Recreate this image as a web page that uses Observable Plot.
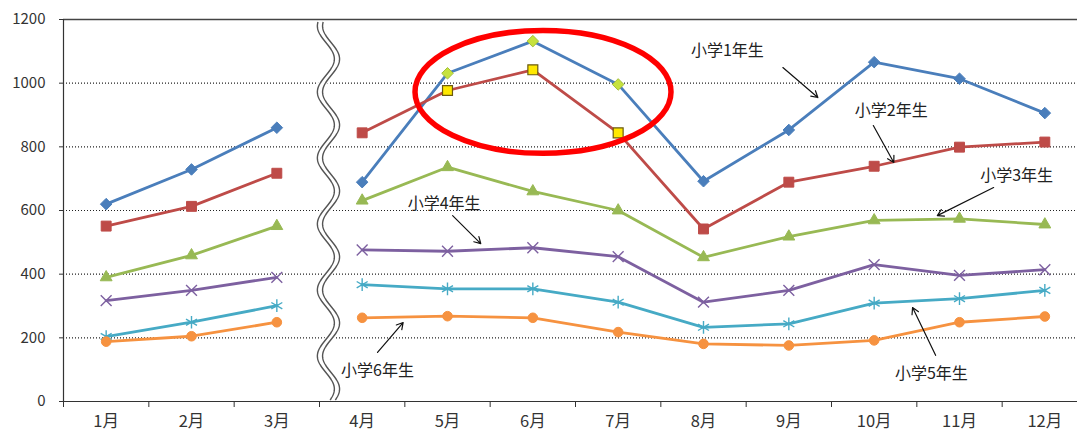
<!DOCTYPE html>
<html><head><meta charset="utf-8">
<script src="https://cdn.jsdelivr.net/npm/d3@7"></script>
<script src="https://cdn.jsdelivr.net/npm/@observablehq/plot@0.6"></script>
<style>
body{margin:0;background:#fff;}
#chart svg{display:block;}
</style>
</head><body><div id="chart"></div>
<script>
// ---- data ----
const months = ["1月","2月","3月","4月","5月","6月","7月","8月","9月","10月","11月","12月"];
const seriesNames = ["小学1年生","小学2年生","小学3年生","小学4年生","小学5年生","小学6年生"];
const grade1 = [620, 729, 860, 689, 1031, 1132, 996, 692, 853, 1066, 1014, 906];
const grade2 = [551, 613, 717, 844, 977, 1042, 844, 542, 689, 739, 799, 815];
const grade3 = [390, 459, 551, 631, 736, 660, 600, 453, 518, 569, 574, 556];
const grade4 = [317, 349, 390, 476, 472, 483, 455, 312, 349, 430, 396, 414];
const grade5 = [204, 249, 301, 367, 354, 354, 312, 233, 244, 309, 323, 349];
const grade6 = [188, 205, 249, 263, 268, 263, 218, 181, 176, 192, 249, 267];
const yTicks = [0, 200, 400, 600, 800, 1000, 1200];
const gridValues = [200, 400, 600, 800, 1000];
const highlightMonths = [5, 6, 7];           // 強調された月
const breakAfterMonth = 3;                     // 3月と4月の間で軸を省略

const colors = ["#4A7EBB", "#BE4B48", "#98B954", "#7D60A0", "#46AAC5", "#F69240"];
const symbols = ["diamond2", "square", "triangle", "times", "asterisk", "circle"];
const dotR = [5.2, 5.6, 4.4, 5.0, 6.0, 4.8];

// label annotations (data coordinates)
const labelX = [8.28, 10.20, 11.67, 4.96, 10.67, 4.18];
const labelY = [1103, 914, 710, 622, 88, 97];
const arrowX1 = [8.93, 9.99, 11.40, 5.06, 10.72, 4.18];
const arrowY1 = [1049, 867, 672, 584, 145, 154];
const arrowX2 = [9.34, 10.23, 10.74, 5.39, 10.45, 4.48];
const arrowY2 = [955, 751, 584, 496, 295, 248];

// red ellipse highlighting May–Jul
const ellipseCx = 6.125, ellipseCy = 971, ellipseRx = 1.5, ellipseRy = 193;

// ---- build table ----
const allSeries = [grade1, grade2, grade3, grade4, grade5, grade6];
const rows = [];
allSeries.forEach((vals, s) => {
  vals.forEach((v, i) => {
    rows.push({m: i + 1, v, s, seg: seriesNames[s] + (i + 1 <= breakAfterMonth ? "a" : "b"),
      hi: s < 2 && highlightMonths.includes(i + 1)});
  });
});
const labels = seriesNames.map((t, i) => ({t, x: labelX[i], y: labelY[i], x1: arrowX1[i], y1: arrowY1[i], x2: arrowX2[i], y2: arrowY2[i]}));

const font = "'Noto Sans CJK JP', sans-serif";
const isStroke = s => symbols[s] === "times" || symbols[s] === "asterisk";

// break decoration (wavy double line)
function breakMark(index, scales) {
  const x = scales.x, y = scales.y;
  const xc = x(breakAfterMonth + 0.611);
  const top = y(1200) + 3, bottom = y(0) - 1;
  const P = 66, A = 8.5, peak = 59;
  const pts = d3.range(top, bottom + 0.5, 1).map(yy => [yy, A * Math.sin(2 * Math.PI * (yy - peak) / P + Math.PI / 2)]);
  const g = d3.create("svg:g");
  const band = pts.map(([yy, dx]) => [xc + dx - 5, yy]).concat(pts.slice().reverse().map(([yy, dx]) => [xc + dx + 5, yy]));
  g.append("path").attr("d", "M" + band.join("L") + "Z").attr("fill", "#fff");
  for (const off of [-2.6, 2.6]) {
    g.append("path").attr("d", "M" + pts.map(([yy, dx]) => [xc + dx + off, yy]).join("L"))
      .attr("fill", "none").attr("stroke", "#555").attr("stroke-width", 1.4);
  }
  return g.node();
}

function ellipseMark(index, scales) {
  const x = scales.x, y = scales.y;
  return d3.create("svg:ellipse")
    .attr("cx", x(ellipseCx)).attr("cy", y(ellipseCy))
    .attr("rx", x(ellipseCx + ellipseRx) - x(ellipseCx))
    .attr("ry", y(ellipseCy - ellipseRy) - y(ellipseCy))
    .attr("fill", "none").attr("stroke", "#FF0000").attr("stroke-width", 5.5).node();
}

const chart = Plot.plot({
  width: 1077, height: 432,
  marginLeft: 63, marginRight: 0, marginTop: 19, marginBottom: 31,
  style: {fontFamily: font, background: "#fff", color: "#333"},
  x: {type: "linear", domain: [0.5, 12.5], range: [63, 1087]},
  y: {domain: [0, 1200], range: [401, 19]},
  r: {type: "identity"},
  marks: [
    Plot.ruleY(gridValues, {stroke: "#222", strokeDasharray: "1,2", strokeWidth: 1.1}),
    Plot.ruleY([1200], {stroke: "#444", strokeWidth: 1.5}),
    Plot.ruleY([0], {stroke: "#333", strokeWidth: 1.2}),
    Plot.ruleX([0.5], {y1: 0, y2: 1200, stroke: "#333", strokeWidth: 1.2}),
    Plot.axisY({ticks: yTicks, tickSize: 4, tickPadding: 14, fontSize: 15, tickFormat: d => String(d), stroke: "#333"}),
    Plot.axisX({ticks: d3.range(0.5, 13, 1), tickSize: 6, tickFormat: () => "", stroke: "#333"}),
    Plot.axisX({ticks: d3.range(1, 13), tickSize: 0, tickPadding: 14, fontSize: 16.5, tickFormat: d => months[d - 1]}),
    breakMark,
    Plot.line(rows, {x: "m", y: "v", z: "seg", stroke: d => colors[d.s], strokeWidth: 2.8}),
    Plot.dot(rows.filter(d => !d.hi), {x: "m", y: "v", symbol: d => symbols[d.s], r: d => dotR[d.s],
      fill: d => isStroke(d.s) ? "none" : colors[d.s],
      stroke: d => colors[d.s], strokeWidth: d => isStroke(d.s) ? 1.4 : 1}),
    Plot.dot(rows.filter(d => d.hi && d.s === 0), {x: "m", y: "v", symbol: "diamond2", r: 5.2, fill: "#C6E23E", stroke: "#A3BF3A", strokeWidth: 1}),
    Plot.dot(rows.filter(d => d.hi && d.s === 1), {x: "m", y: "v", symbol: "square", r: 5.6, fill: "#FFE800", stroke: "#6B5A10", strokeWidth: 1.2}),
    ellipseMark,
    Plot.arrow(labels, {x1: "x1", y1: "y1", x2: "x2", y2: "y2", stroke: "#111", strokeWidth: 1.2, headLength: 9}),
    Plot.text(labels, {x: "x", y: "y", text: "t", fontSize: 16, fill: "#222", fontFamily: font})
  ]
});
chart.style.fontFamily = font;
document.getElementById("chart").append(chart);
</script>
</body></html>
